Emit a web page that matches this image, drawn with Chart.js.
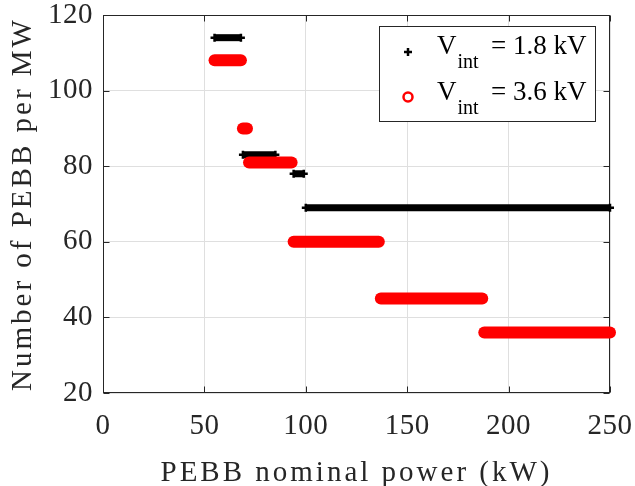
<!DOCTYPE html>
<html><head><meta charset="utf-8">
<script src="https://cdn.jsdelivr.net/npm/chart.js@4"></script>
<style>html,body{margin:0;padding:0;background:#fff;}#wrap{width:635px;height:486px;position:relative;}canvas{display:block;}</style>
</head><body><div id="wrap"><canvas id="c" width="635" height="486"></canvas></div>
<script>
// tick labels
const xTicks = [0, 50, 100, 150, 200, 250];
const yTicks = [20, 40, 60, 80, 100, 120];
// V_int = 1.8 kV : runs of constant value (start kW, end kW, PEBB per MW)
const blackStart = [55, 69, 94, 100];
const blackEnd   = [68, 85, 99, 250];
const blackValue = [114, 83, 78, 69];
// V_int = 3.6 kV
const redStart = [55, 69, 72, 94, 137, 188];
const redEnd   = [68, 71, 93, 136, 187, 250];
const redValue = [108, 90, 81, 60, 45, 36];
const legendLabels = ['1.8 kV', '3.6 kV'];

const FONT = 'Liberation Serif';
const AX = '#262626';

const datasets = [];
redValue.forEach((v, i) => datasets.push({
  data: [{x: redStart[i], y: v}, {x: redEnd[i], y: v}],
  showLine: true, borderColor: '#ff0000', borderWidth: 12, borderCapStyle: 'round',
  pointRadius: 0, clip: false, order: 0
}));
blackValue.forEach((v, i) => datasets.push({
  data: [{x: blackStart[i], y: v}, {x: blackEnd[i], y: v}],
  showLine: true, borderColor: '#000', borderWidth: 7, borderCapStyle: 'butt',
  pointStyle: 'cross', pointRadius: 4, pointBorderWidth: 2.5, pointBorderColor: '#000',
  pointBackgroundColor: '#000', clip: false, order: 1
}));

const spacing = {
  id: 'spacing',
  beforeDraw(chart) {
    chart.ctx.letterSpacing = '0.5px';
    ['x', 'y'].forEach(id => {
      const s = chart.scales[id];
      if (s && !s._spaced) {
        const orig = s.drawTitle.bind(s);
        s.drawTitle = function () {
          const c = this.ctx; c.save(); c.letterSpacing = '3px'; orig(); c.restore();
        };
        s._spaced = true;
      }
    });
  }
};

const frame = {
  id: 'frame',
  beforeDatasetsDraw(chart) {
    const {ctx, chartArea: a, scales: {x, y}} = chart;
    ctx.save();
    ctx.strokeStyle = AX; ctx.lineWidth = 1;
    const L = Math.round(a.left) + 0.5, R = Math.round(a.right) - 0.5;
    const T = Math.round(a.top) + 0.5, B = Math.round(a.bottom) - 0.5;
    ctx.strokeRect(L, T, R - L, B - T);
    ctx.beginPath();
    xTicks.forEach(v => {
      const p = Math.round(x.getPixelForValue(v)) + 0.5;
      ctx.moveTo(p, B); ctx.lineTo(p, B - 6);
      ctx.moveTo(p, T); ctx.lineTo(p, T + 6);
    });
    yTicks.forEach(v => {
      const p = Math.round(y.getPixelForValue(v)) + 0.5;
      ctx.moveTo(L, p); ctx.lineTo(L + 6, p);
      ctx.moveTo(R, p); ctx.lineTo(R - 6, p);
    });
    ctx.stroke();
    ctx.restore();
  }
};

const legendBox = {
  id: 'legendBox',
  afterDraw(chart) {
    const ctx = chart.ctx;
    ctx.save();
    ctx.letterSpacing = '0px';
    const bx = 379.5, by = 26.5, bw = 216, bh = 95;
    ctx.fillStyle = '#fff';
    ctx.fillRect(bx, by, bw, bh);
    ctx.strokeStyle = AX; ctx.lineWidth = 1;
    ctx.strokeRect(bx, by, bw, bh);
    const rows = [54, 100];
    // markers
    ctx.lineWidth = 2.5;
    ctx.strokeStyle = '#000';
    ctx.beginPath();
    ctx.moveTo(404, rows[0] - 2); ctx.lineTo(412, rows[0] - 2);
    ctx.moveTo(408, rows[0] - 6); ctx.lineTo(408, rows[0] + 2);
    ctx.stroke();
    ctx.strokeStyle = '#ff0000';
    ctx.beginPath();
    ctx.arc(408, rows[1] - 3, 4.5, 0, Math.PI * 2);
    ctx.stroke();
    // texts
    ctx.fillStyle = '#000';
    ctx.textBaseline = 'alphabetic';
    ctx.textAlign = 'left';
    rows.forEach((yb, i) => {
      ctx.font = '27px "' + FONT + '"';
      ctx.fillText('V', 437, yb);
      const w = ctx.measureText('V').width;
      ctx.font = '20px "' + FONT + '"';
      ctx.fillText('int', 437 + w + 1, yb + 14);
      ctx.font = '27px "' + FONT + '"';
      ctx.fillText('= ' + legendLabels[i], 491, yb);
    });
    ctx.restore();
  }
};

new Chart(document.getElementById('c'), {
  type: 'scatter',
  data: {datasets},
  options: {
    responsive: false, animation: false, events: [],
    layout: {padding: {top: 15, right: 25, bottom: 0, left: 0}},
    plugins: {legend: {display: false}, tooltip: {enabled: false}},
    scales: {
      x: {
        type: 'linear', min: 0, max: 250,
        afterBuildTicks(s) { s.ticks = xTicks.map(v => ({value: v})); },
        grid: {color: '#dfdfdf', drawTicks: false, lineWidth: 1},
        border: {display: false},
        ticks: {font: {family: FONT, size: 29}, color: AX, padding: 16, maxRotation: 0, autoSkip: false},
        title: {display: true, text: 'PEBB nominal power (kW)', color: AX,
                font: {family: FONT, size: 29, lineHeight: 0.9}, padding: 0},
        afterFit(s) { s.height = 93; s.paddingLeft = 0; s.paddingRight = 0; s.paddingTop = 0; s.paddingBottom = 0; }
      },
      y: {
        type: 'linear', min: 20, max: 120,
        afterBuildTicks(s) { s.ticks = yTicks.map(v => ({value: v})); },
        grid: {color: '#dfdfdf', drawTicks: false, lineWidth: 1},
        border: {display: false},
        ticks: {font: {family: FONT, size: 29}, color: AX, padding: 10, autoSkip: false},
        title: {display: true, text: 'Number of PEBB per MW', color: AX,
                font: {family: FONT, size: 29, lineHeight: 1.2}, padding: {top: 6, bottom: 0}},
        afterFit(s) { s.width = 103; s.paddingLeft = 0; s.paddingRight = 0; s.paddingTop = 0; s.paddingBottom = 0; }
      }
    }
  },
  plugins: [spacing, frame, legendBox]
});
</script>
</body></html>
